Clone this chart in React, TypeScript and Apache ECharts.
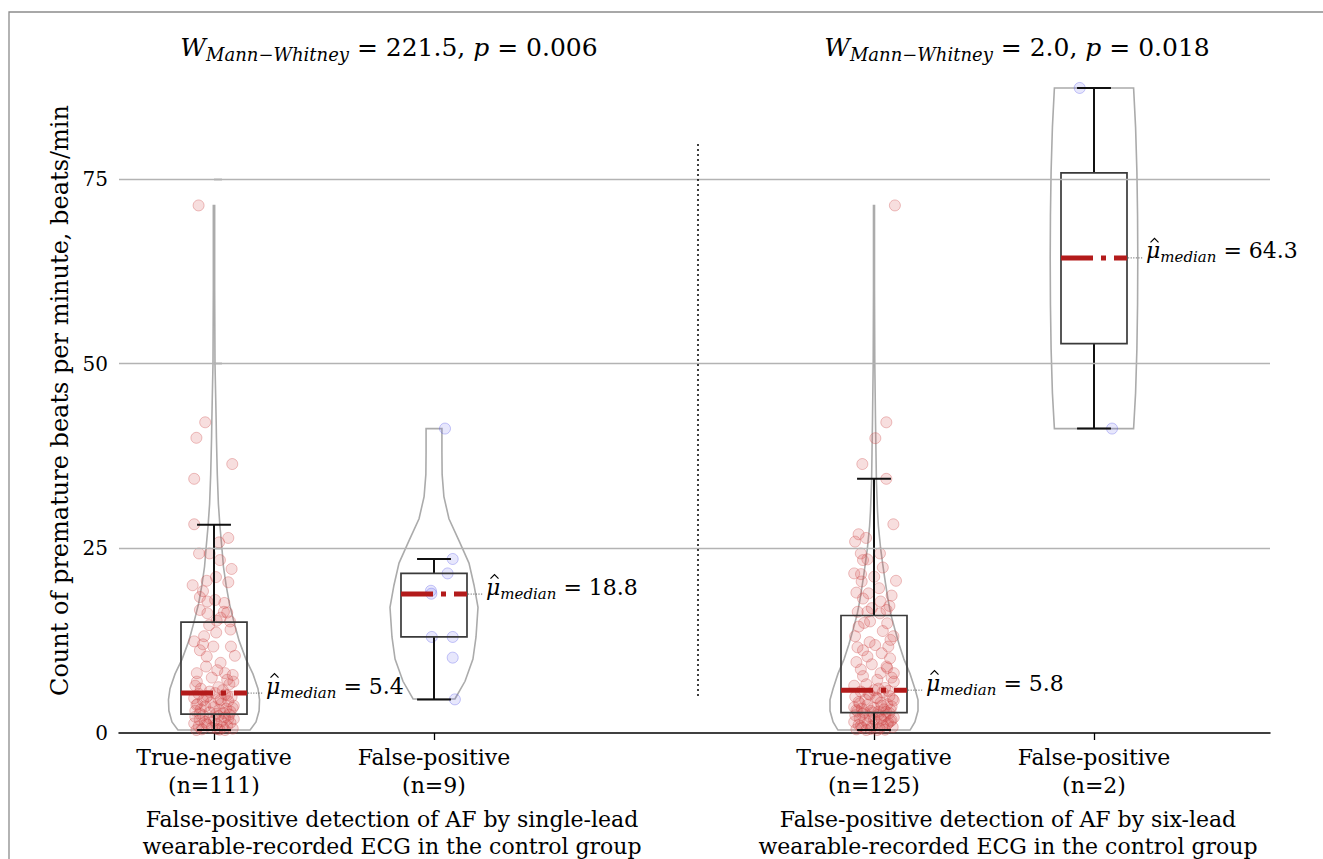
import React, { useEffect, useRef } from 'react';
import * as echarts from 'echarts';

const FONT = '"DejaVu Serif", "Liberation Serif", serif';

// ---------- data ----------
const positions = [0, 1, 3, 4];
const categoryLabels = ['True-negative\n(n=111)', 'False-positive\n(n=9)', 'True-negative\n(n=125)', 'False-positive\n(n=2)'];
const groupLabels = [
  'False-positive detection of AF by single-lead\nwearable-recorded ECG in the control group',
  'False-positive detection of AF by six-lead\nwearable-recorded ECG in the control group',
];
const testW = ['221.5', '2.0'];
const testP = ['0.006', '0.018'];
const yTicks = [0, 25, 50, 75];
const gridValues = [25, 50, 75];
const dividerX = 2.2;
const dividerFrom = 5;
const dividerTo = 80;

// box statistics
const boxLow = [0.4, 4.55, 0.4, 41.2];
const boxQ1 = [2.55, 13.0, 2.75, 52.7];
const boxMedian = [5.4, 18.8, 5.8, 64.3];
const boxQ3 = [15.0, 21.6, 15.9, 75.8];
const boxHigh = [28.2, 23.55, 34.4, 87.3];

// violin outlines: values and half-widths (category units)
const violin1Y = [0.4, 1.5, 3, 4.5, 6, 8, 10, 12.5, 15, 17.5, 20, 22.5, 25, 28, 31, 35, 40, 42, 45, 50, 60, 71.4];
const violin1W = [0.164, 0.191, 0.205, 0.207, 0.2, 0.177, 0.145, 0.114, 0.091, 0.07, 0.055, 0.043, 0.036, 0.027, 0.02, 0.015, 0.011, 0.01, 0.008, 0.0045, 0.003, 0.003];
const violin2Y = [4.6, 7, 10, 13, 17, 20, 23, 26, 29, 32, 35, 38, 41.2];
const violin2W = [0.095, 0.141, 0.177, 0.191, 0.2, 0.182, 0.159, 0.114, 0.068, 0.045, 0.037, 0.036, 0.036];
const violin3Y = [0.4, 1.5, 3, 4.5, 6, 8, 10, 12, 14, 16, 18, 20.7, 23, 25, 28, 30, 34, 38, 42, 50, 60, 71.4];
const violin3W = [0.164, 0.186, 0.2, 0.2, 0.186, 0.164, 0.136, 0.114, 0.095, 0.077, 0.064, 0.05, 0.039, 0.03, 0.02, 0.016, 0.011, 0.009, 0.007, 0.0036, 0.0023, 0.0023];
const violin4Y = [41.2, 46, 52, 58, 64.3, 70, 76, 82, 87.3];
const violin4W = [0.18, 0.189, 0.195, 0.198, 0.199, 0.198, 0.195, 0.189, 0.18];

// individual observations: [jitter offset, value]
const tnSinglePoints: number[][] = [
  [-0.07, 71.4], [-0.04, 42.05], [-0.08, 39.95], [0.083, 36.4], [-0.09, 34.4], [-0.09, 28.25], [0.065, 26.4],
  [0.023, 25.8], [-0.068, 24.3], [-0.02, 24.3], [0.027, 23.4], [0.08, 22.2], [-0.097, 20.0], [-0.033, 20.6],
  [0.009, 21.1], [0.065, 20.4], [-0.064, 18.4], [-0.03, 17.8], [0.005, 18.0], [0.047, 17.6], [-0.064, 16.65],
  [-0.03, 16.2], [0.045, 16.4], [0.06, 16.3], [0.073, 15.1], [0.012, 15.2], [-0.05, 19.2], [0.03, 15.6],
  [-0.022, 14.6], [-0.045, 13.1], [-0.09, 12.4], [-0.003, 11.7], [0.077, 11.7], [0.095, 10.45], [-0.064, 11.2],
  [-0.033, 10.35], [-0.036, 9.0], [-0.078, 8.1], [0.015, 8.5], [0.05, 8.1], [0.085, 7.85], [-0.078, 6.95],
  [0.088, 6.95], [0.07, 6.6], [-0.02, 5.6], [0.04, 5.8], [-0.06, 6.0], [0.02, 6.2], [-0.085, 6.4], [0.06, 7.2],
  [-0.01, 7.5], [0.03, 9.5], [-0.05, 12.0], [0.01, 13.6], [0.075, 14.0], [0.005, 5.4],
  [-0.07, 5.3], [0.05, 5.2], [-0.03, 5.0], [0.08, 4.9], [-0.09, 4.7], [0.02, 4.6], [-0.05, 4.4], [0.065, 4.3],
  [-0.015, 4.1], [0.035, 4.0], [-0.075, 3.9], [0.09, 3.7], [-0.04, 3.6], [0.0, 3.5], [0.055, 3.3], [-0.06, 3.2],
  [0.025, 3.1], [-0.085, 3.0], [0.075, 2.9], [-0.02, 2.8], [0.045, 2.7], [-0.065, 2.65], [0.01, 2.6], [0.085, 3.4],
  [-0.035, 4.8], [0.06, 5.1], [-0.08, 3.8], [0.03, 4.5],
  [0.07, 2.5], [-0.05, 2.4], [0.02, 2.3], [-0.085, 2.2], [0.05, 2.1], [-0.02, 2.0], [0.09, 1.9], [-0.065, 1.8],
  [0.0, 1.7], [0.035, 1.6], [-0.04, 1.5], [0.075, 1.4], [-0.09, 1.3], [0.01, 1.2], [-0.03, 1.1], [0.06, 1.0],
  [-0.07, 0.9], [0.04, 0.8], [-0.01, 0.7], [0.085, 0.6], [-0.055, 0.5], [0.025, 0.45], [-0.08, 0.4], [0.05, 0.4],
  [-0.035, 1.25], [0.015, 0.55], [0.065, 1.95],
];
const fpSinglePoints: number[][] = [
  [0.05, 41.2], [0.085, 23.55], [0.062, 21.6], [-0.014, 19.25], [-0.012, 18.85], [-0.01, 13.0], [0.085, 13.0],
  [0.085, 10.2], [0.095, 4.55],
];
const tnSixPoints: number[][] = [
  [0.095, 71.4], [0.056, 42.05], [0.006, 39.9], [-0.053, 36.4], [0.056, 34.4], [0.088, 28.25], [-0.07, 26.9],
  [-0.036, 26.4], [-0.086, 25.9], [-0.06, 24.3], [0.027, 24.3], [-0.05, 23.4], [-0.03, 23.5], [-0.09, 21.6],
  [-0.059, 21.5], [0.1, 20.6], [0.001, 21.15], [-0.056, 20.5], [-0.025, 18.9], [0.023, 19.6], [-0.05, 18.2],
  [0.03, 17.8], [-0.074, 16.4], [-0.03, 16.4], [0.057, 16.65], [0.027, 16.2], [0.07, 17.2], [-0.08, 19.0],
  [0.04, 22.4], [-0.01, 16.9], [0.08, 18.6],
  [-0.018, 15.1], [0.06, 14.85], [-0.07, 14.4], [-0.086, 13.1], [0.088, 13.1], [0.075, 12.6], [0.005, 11.9],
  [-0.05, 11.2], [-0.03, 10.35], [0.065, 11.7], [0.073, 10.1], [0.057, 9.0], [0.09, 8.1], [0.03, 8.1], [-0.05, 7.7],
  [0.09, 6.95], [-0.08, 9.6], [-0.02, 12.3], [0.04, 13.8], [-0.06, 8.6], [0.015, 7.2], [-0.09, 6.4], [0.05, 6.1],
  [-0.035, 6.6], [0.08, 7.5], [-0.01, 9.3], [0.035, 10.8], [-0.075, 11.6], [0.02, 6.0], [-0.045, 14.9], [0.06, 8.8],
  [0.0, 5.8],
  [-0.06, 5.6], [0.04, 5.5], [-0.02, 5.2], [0.07, 5.0], [-0.085, 4.9], [0.015, 4.7], [-0.04, 4.5], [0.09, 4.4],
  [-0.07, 4.2], [0.03, 4.1], [0.06, 3.9], [-0.03, 3.8], [0.08, 3.6], [-0.09, 3.5], [0.0, 3.4], [-0.055, 3.3],
  [0.045, 3.2], [0.075, 3.1], [-0.015, 3.0], [-0.075, 2.95], [0.02, 2.9], [0.055, 2.85], [-0.045, 2.8], [0.085, 4.6],
  [-0.025, 5.3], [0.035, 3.7], [-0.065, 4.0], [0.01, 4.8], [-0.08, 3.1], [0.065, 5.7], [-0.005, 2.78],
  [0.07, 2.7], [-0.05, 2.6], [0.02, 2.5], [-0.085, 2.4], [0.05, 2.3], [-0.02, 2.2], [0.09, 2.1], [-0.065, 2.0],
  [0.0, 1.9], [0.035, 1.8], [-0.04, 1.7], [0.075, 1.6], [-0.09, 1.5], [0.01, 1.4], [-0.03, 1.3], [0.06, 1.2],
  [-0.07, 1.1], [0.04, 1.0], [-0.01, 0.9], [0.085, 0.8], [-0.055, 0.7], [0.025, 0.6], [-0.08, 0.5], [0.05, 0.45],
  [-0.035, 0.4], [0.015, 0.4], [0.065, 1.35], [-0.06, 0.95], [0.03, 2.05], [-0.015, 0.55], [0.08, 1.75],
];
const fpSixPoints: number[][] = [[-0.065, 87.3], [0.082, 41.2]];

// ---------- styling constants ----------
const BOX_HALF = 0.15;
const CAP_HALF = 0.077;
const violinY = [violin1Y, violin2Y, violin3Y, violin4Y];
const violinW = [violin1W, violin2W, violin3W, violin4W];

const toScatter = (pts: number[][], pos: number) => pts.map((p) => [pos + p[0], p[1]]);

const redPoint = { color: 'rgba(212,70,70,0.22)', borderColor: 'rgba(205,70,70,0.42)', borderWidth: 1 };
const bluePoint = { color: 'rgba(90,90,235,0.18)', borderColor: 'rgba(90,90,235,0.42)', borderWidth: 1 };

function buildOption(): any {
  const titleText = (i: number) => `{w|W}{ws|Mann−Whitney}{t| = ${testW[i]}, }{w|p}{t| = ${testP[i]}}`;
  const titleRich = {
    w: { fontFamily: FONT, fontSize: 25, fontStyle: 'italic', fill: '#000', lineHeight: 32 },
    ws: { fontFamily: FONT, fontSize: 18, fontStyle: 'italic', fill: '#000', lineHeight: 16, verticalAlign: 'bottom' },
    t: { fontFamily: FONT, fontSize: 25, fill: '#000', lineHeight: 32 },
  };
  return {
    animation: false,
    backgroundColor: '#fff',
    grid: { left: 119, right: 53, top: 68, bottom: 126, containLabel: false },
    xAxis: {
      type: 'value',
      min: -0.4318,
      max: 4.8,
      splitLine: { show: false },
      axisLine: { show: true, lineStyle: { color: '#000', width: 1.5 } },
      axisTick: { show: true, customValues: positions, length: 7, lineStyle: { color: '#000', width: 1.3 } },
      axisLabel: {
        show: true,
        customValues: positions,
        margin: 10,
        fontFamily: FONT,
        fontSize: 22,
        lineHeight: 28,
        color: '#000',
        formatter: (v: number) => {
          const idx = positions.findIndex((p) => Math.abs(p - v) < 1e-6);
          return idx >= 0 ? categoryLabels[idx] : '';
        },
      },
    },
    yAxis: {
      type: 'value',
      min: 0,
      max: 90,
      interval: 25,
      name: 'Count of premature beats per minute, beats/min',
      nameLocation: 'middle',
      nameGap: 45,
      nameTextStyle: { fontFamily: FONT, fontSize: 24, color: '#000' },
      splitLine: { show: false },
      axisLine: { show: false },
      axisTick: { show: true, inside: true, length: 8, customValues: yTicks, lineStyle: { color: '#222', width: 1.3 } },
      axisLabel: { show: true, customValues: yTicks, margin: 11, fontFamily: FONT, fontSize: 20, color: '#000' },
    },
    graphic: [
      { type: 'rect', shape: { x: 9, y: 12, width: 1400, height: 900 }, style: { fill: 'none', stroke: '#8c8c8c', lineWidth: 1.3 }, silent: true, z: -10 },
      { type: 'text', x: 389, y: 47, style: { text: titleText(0), rich: titleRich, align: 'center', verticalAlign: 'middle' } },
      { type: 'text', x: 1017, y: 47, style: { text: titleText(1), rich: titleRich, align: 'center', verticalAlign: 'middle' } },
      { type: 'text', x: 392, y: 806, style: { text: groupLabels[0], fontFamily: FONT, fontSize: 22, lineHeight: 27, fill: '#000', align: 'center', verticalAlign: 'top' } },
      { type: 'text', x: 1008, y: 806, style: { text: groupLabels[1], fontFamily: FONT, fontSize: 22, lineHeight: 27, fill: '#000', align: 'center', verticalAlign: 'top' } },
    ],
    series: [
      {
        type: 'custom',
        name: 'violin',
        z: 1,
        data: positions.map((p, i) => [p, i]),
        renderItem: (params: any, api: any) => {
          const i = params.dataIndex;
          const pos = api.value(0);
          const ys = violinY[i];
          const ws = violinW[i];
          const right = ys.map((y, k) => api.coord([pos + ws[k], y]));
          const left = ys.map((y, k) => api.coord([pos - ws[k], y])).reverse();
          return {
            type: 'polygon',
            shape: { points: right.concat(left) },
            style: { fill: 'none', stroke: '#ababab', lineWidth: 1.6 },
          };
        },
        markLine: {
          silent: true,
          symbol: 'none',
          label: { show: false },
          lineStyle: { color: '#b3b3b3', width: 1.3, type: 'solid' },
          data: [
            ...gridValues.map((v) => ({ yAxis: v })),
            [
              { coord: [dividerX, dividerFrom], lineStyle: { color: '#000', width: 1.5, type: [2, 3] } },
              { coord: [dividerX, dividerTo] },
            ],
          ],
        },
      },
      { type: 'scatter', name: 'tn1', z: 2, symbolSize: 11, itemStyle: redPoint, data: toScatter(tnSinglePoints, positions[0]) },
      { type: 'scatter', name: 'fp1', z: 2, symbolSize: 11, itemStyle: bluePoint, data: toScatter(fpSinglePoints, positions[1]) },
      { type: 'scatter', name: 'tn2', z: 2, symbolSize: 11, itemStyle: redPoint, data: toScatter(tnSixPoints, positions[2]) },
      { type: 'scatter', name: 'fp2', z: 2, symbolSize: 11, itemStyle: bluePoint, data: toScatter(fpSixPoints, positions[3]) },
      {
        type: 'custom',
        name: 'box',
        z: 3,
        data: positions.map((p, i) => [p, boxLow[i], boxQ1[i], boxMedian[i], boxQ3[i], boxHigh[i]]),
        encode: { x: 0, y: [1, 2, 3, 4, 5] },
        renderItem: (params: any, api: any) => {
          const i = params.dataIndex;
          const pos = api.value(0);
          const cx = api.coord([pos, 0])[0];
          const hb = api.size([BOX_HALF, 0])[0];
          const cap = api.size([CAP_HALF, 0])[0];
          const yLo = api.coord([pos, api.value(1)])[1];
          const yQ1 = api.coord([pos, api.value(2)])[1];
          const yMed = api.coord([pos, api.value(3)])[1];
          const yQ3 = api.coord([pos, api.value(4)])[1];
          const yHi = api.coord([pos, api.value(5)])[1];
          const black = { stroke: '#111', lineWidth: 2 };
          const tx = cx + hb + 19;
          return {
            type: 'group',
            children: [
              { type: 'line', shape: { x1: cx, y1: yQ3, x2: cx, y2: yHi }, style: black },
              { type: 'line', shape: { x1: cx, y1: yQ1, x2: cx, y2: yLo }, style: black },
              { type: 'line', shape: { x1: cx - cap, y1: yHi, x2: cx + cap, y2: yHi }, style: black },
              { type: 'line', shape: { x1: cx - cap, y1: yLo, x2: cx + cap, y2: yLo }, style: black },
              { type: 'rect', shape: { x: cx - hb, y: yQ3, width: 2 * hb, height: yQ1 - yQ3 }, style: { fill: 'none', stroke: '#3a3a3a', lineWidth: 1.7 } },
              { type: 'line', shape: { x1: cx - hb, y1: yMed, x2: cx + hb, y2: yMed }, style: { stroke: '#b31b1b', lineWidth: 5, lineDash: [32, 8, 5, 8] } },
              { type: 'line', shape: { x1: cx + hb + 1, y1: yMed, x2: cx + hb + 16, y2: yMed }, style: { stroke: '#444', lineWidth: 0.8, lineDash: [1.2, 1.4] } },
              {
                type: 'text',
                x: tx,
                y: yMed - 7,
                style: {
                  text: `{m|μ}{s|median}{e| = ${boxMedian[i].toFixed(1)}}`,
                  align: 'left',
                  verticalAlign: 'middle',
                  rich: {
                    m: { fontFamily: FONT, fontSize: 22, fontStyle: 'italic', fill: '#000', lineHeight: 28 },
                    s: { fontFamily: FONT, fontSize: 15, fontStyle: 'italic', fill: '#000', lineHeight: 14, verticalAlign: 'bottom' },
                    e: { fontFamily: FONT, fontSize: 22, fill: '#000', lineHeight: 28 },
                  },
                },
              },
              {
                type: 'polyline',
                shape: { points: [[tx + 4.5, yMed - 15.5], [tx + 8.5, yMed - 19.5], [tx + 12.5, yMed - 15.5]] },
                style: { fill: 'none', stroke: '#000', lineWidth: 1.2 },
              },
            ],
          };
        },
      },
    ],
  };
}

export default function App() {
  const ref = useRef<HTMLDivElement>(null);
  useEffect(() => {
    document.body.style.margin = '0';
    const chart = echarts.init(ref.current as HTMLDivElement, null, { renderer: 'svg' });
    chart.setOption(buildOption());
    return () => chart.dispose();
  }, []);
  return <div ref={ref} style={{ width: 1323, height: 859 }} />;
}
